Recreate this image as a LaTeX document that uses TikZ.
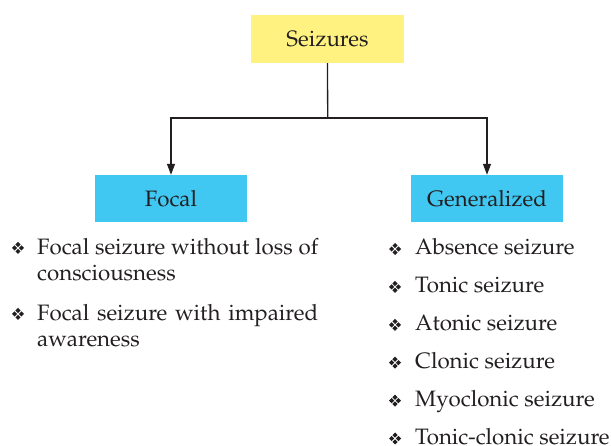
\documentclass[tikz,border=0pt]{standalone}
\usepackage[T1]{fontenc}
\usepackage{mathpazo}
\usetikzlibrary{arrows.meta}
\definecolor{ink}{HTML}{231F20}
\definecolor{boxyellow}{HTML}{FFF280}
\definecolor{boxcyan}{HTML}{40C8F2}
\tikzset{
  topbox/.style={fill=boxyellow, minimum width=153pt, minimum height=48pt, inner sep=0pt},
  subbox/.style={fill=boxcyan, minimum width=152pt, minimum height=47pt, inner sep=0pt},
  itemtext/.style={anchor=base west, inner sep=0pt, text=ink},
  conn/.style={draw=ink, line width=1.3pt},
  arr/.style={conn, -{Triangle[length=11pt,width=8pt]}},
  bullet/.pic={
    \foreach \dx/\dy in {3.4/0,-3.4/0,0/3.4,0/-3.4}
      \fill[ink] (\dx+2.6,\dy) -- (\dx,\dy+2.6) -- (\dx-2.6,\dy) -- (\dx,\dy-2.6) -- cycle;
  }
}
\begin{document}
\begin{tikzpicture}[x=1pt,y=-1pt, font=\fontsize{22.3}{26}\selectfont, text=ink]
\useasboundingbox[fill=white] (0,0) rectangle (611,446);
\node[topbox] (seiz) at (327.5,39) {Seizures};
\node[subbox] (focal) at (171,198.5) {Focal};
\node[subbox] (gen) at (487,198.5) {Generalized};
\coordinate (j) at (327.7,118);
\draw[conn] (seiz.south) -- (j);
\draw[arr] (j) -| (focal.north);
\draw[arr] (j) -| (gen.north);

% left list
\pic at (18,248) {bullet};
\node[itemtext] (f1) at (37,255) {\makebox[281pt][s]{Focal seizure without loss of}};
\node[itemtext] (f2) at (37,281) {consciousness};
\pic at (18,314) {bullet};
\node[itemtext] (f3) at (37,321) {\makebox[281pt][s]{Focal seizure with impaired}};
\node[itemtext] (f4) at (37,347) {awareness};

% right list
\foreach \t [count=\i from 0] in {Absence seizure, Tonic seizure, Atonic seizure, Clonic seizure, Myoclonic seizure, Tonic-clonic seizure}{
  \pic at (395,249+37.9*\i) {bullet};
  \node[itemtext] (g\i) at (415,255+37.9*\i) {\t};
}
\end{tikzpicture}
\end{document}
